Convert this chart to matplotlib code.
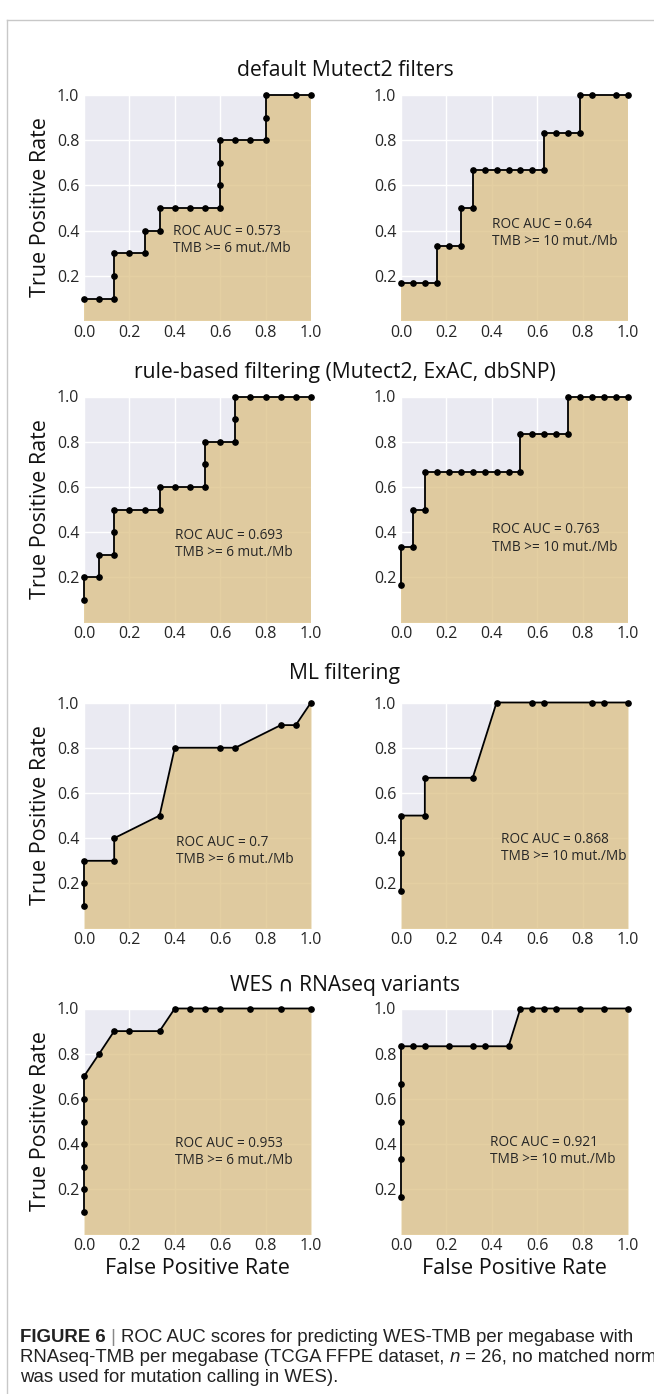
import matplotlib
matplotlib.use("Agg")
import matplotlib.pyplot as plt
from matplotlib.lines import Line2D

W, H, DPI = 654, 1394, 100

# ---------------- data ----------------
row_titles = ["default Mutect2 filters",
              "rule-based filtering (Mutect2, ExAC, dbSNP)",
              "ML filtering",
              "WES \u2229 RNAseq variants"]
thresholds = ["TMB >= 6 mut./Mb", "TMB >= 10 mut./Mb"]
auc_labels = [["0.573", "0.64"], ["0.693", "0.763"], ["0.7", "0.868"], ["0.953", "0.921"]]

fpr_default_6 = [0, .067, .133, .133, .133, .2, .267, .267, .333, .333, .4, .467, .533, .6,
                 .6, .6, .6, .667, .733, .8, .8, .8, .933, 1]
tpr_default_6 = [.1, .1, .1, .2, .3, .3, .3, .4, .4, .5, .5, .5, .5, .5,
                 .6, .7, .8, .8, .8, .8, .9, 1, 1, 1]
fpr_default_10 = [0, .053, .105, .158, .158, .211, .263, .263, .316, .316, .368, .421, .474,
                  .526, .579, .632, .632, .684, .737, .789, .789, .842, .947, 1]
tpr_default_10 = [.167, .167, .167, .167, .333, .333, .333, .5, .5, .667, .667, .667, .667,
                  .667, .667, .667, .833, .833, .833, .833, 1, 1, 1, 1]
fpr_rule_6 = [0, 0, .067, .067, .133, .133, .133, .2, .267, .333, .333, .4, .467, .533,
              .533, .533, .6, .667, .667, .667, .733, .8, .867, .933, 1]
tpr_rule_6 = [.1, .2, .2, .3, .3, .4, .5, .5, .5, .5, .6, .6, .6, .6,
              .7, .8, .8, .8, .9, 1, 1, 1, 1, 1, 1]
fpr_rule_10 = [0, 0, .053, .053, .105, .105, .158, .211, .263, .316, .368, .421, .474, .526,
               .526, .579, .632, .684, .737, .737, .789, .842, .895, .947, 1]
tpr_rule_10 = [.167, .333, .333, .5, .5, .667, .667, .667, .667, .667, .667, .667, .667, .667,
               .833, .833, .833, .833, .833, 1, 1, 1, 1, 1, 1]
fpr_ml_6 = [0, 0, 0, .133, .133, .333, .4, .6, .667, .867, .933, 1]
tpr_ml_6 = [.1, .2, .3, .3, .4, .5, .8, .8, .8, .9, .9, 1]
fpr_ml_10 = [0, 0, 0, .105, .105, .316, .421, .579, .632, .842, .895, 1]
tpr_ml_10 = [.167, .333, .5, .5, .667, .667, 1, 1, 1, 1, 1, 1]
fpr_wes_6 = [0, 0, 0, 0, 0, 0, 0, .067, .133, .2, .333, .4, .467, .533, .6, .733, .867, 1]
tpr_wes_6 = [.1, .2, .3, .4, .5, .6, .7, .8, .9, .9, .9, 1, 1, 1, 1, 1, 1, 1]
fpr_wes_10 = [0, 0, 0, 0, 0, .053, .105, .211, .316, .368, .474, .526, .579, .632, .684,
              .789, .895, 1]
tpr_wes_10 = [.167, .333, .5, .667, .833, .833, .833, .833, .833, .833, .833, 1, 1, 1, 1,
              1, 1, 1]

curves = [[(fpr_default_6, tpr_default_6), (fpr_default_10, tpr_default_10)],
          [(fpr_rule_6, tpr_rule_6), (fpr_rule_10, tpr_rule_10)],
          [(fpr_ml_6, tpr_ml_6), (fpr_ml_10, tpr_ml_10)],
          [(fpr_wes_6, tpr_wes_6), (fpr_wes_10, tpr_wes_10)]]

ticks = [0.0, 0.2, 0.4, 0.6, 0.8, 1.0]
yticks = [0.2, 0.4, 0.6, 0.8, 1.0]
tick_labels = ["0.0", "0.2", "0.4", "0.6", "0.8", "1.0"]
ytick_labels = ["0.2", "0.4", "0.6", "0.8", "1.0"]

caption_lines = [
    [("FIGURE 6", "bold", "normal", "#222222"), (" | ", "normal", "normal", "#888888"),
     ("ROC AUC scores for predicting WES-TMB per megabase with", "normal", "normal", "#222222")],
    [("RNAseq-TMB per megabase (TCGA FFPE dataset, ", "normal", "normal", "#222222"),
     ("n", "normal", "italic", "#222222"),
     (" = 26, no matched norm", "normal", "normal", "#222222")],
    [("was used for mutation calling in WES).", "normal", "normal", "#222222")],
]

# ---------------- layout ----------------
FONT = ["Open Sans", "DejaVu Sans"]
plt.rcParams['font.family'] = FONT
BG = "#EAEAF2"
FILL = "#DDC288"
TXT = "#262626"

fig = plt.figure(figsize=(W / DPI, H / DPI), dpi=DPI)
fig.patch.set_facecolor("white")

col_x = [84, 401]
ax_w = 227
row_top = [95, 396.5, 702.5, 1008.5]
ax_h = 225
title_base = [76, 378, 679, 991]
text_pos = [[(.39, .36), (.40, .39)],
            [(.40, .347), (.40, .372)],
            [(.405, .343), (.44, .355)],
            [(.40, .365), (.39, .37)]]

for r in range(4):
    fig.text(345 / W, 1 - title_base[r] / H, row_titles[r], ha="center", va="baseline",
             fontsize=15.2, color="#111111")
    for c in range(2):
        left = col_x[c] / W
        bottom = 1 - (row_top[r] + ax_h) / H
        ax = fig.add_axes([left, bottom, ax_w / W, ax_h / H])
        ax.set_facecolor(BG)
        for s in ax.spines.values():
            s.set_visible(False)
        ax.set_xlim(0, 1)
        ax.set_ylim(0.005, 1.0)
        ax.set_xticks(ticks)
        ax.set_xticklabels(tick_labels)
        ax.set_yticks(yticks)
        ax.set_yticklabels(ytick_labels)
        ax.tick_params(length=0, labelsize=11.5, colors=TXT, pad=3.5)
        ax.grid(True, color="white", lw=1.0)
        ax.set_axisbelow(True)
        fpr, tpr = curves[r][c]
        ax.fill_between(fpr, tpr, 0, color=FILL, alpha=0.78, lw=0, zorder=2)
        ax.plot(fpr, tpr, color="black", lw=1.3, marker="o", ms=3.8, zorder=3,
                clip_on=False)
        tx, ty = text_pos[r][c]
        ax.text(tx, ty, f"ROC AUC = {auc_labels[r][c]}\n{thresholds[c]}", ha="left",
                va="center", fontsize=9.8, color=TXT, linespacing=1.2, zorder=4)
    # y label
    fig.text(41 / W, 1 - (row_top[r] + ax_h / 2) / H, "True Positive Rate", rotation=90,
             ha="center", va="center", fontsize=15.5, color="#111111")

for c in range(2):
    fig.text((col_x[c] + ax_w / 2) / W, 1 - 1268 / H, "False Positive Rate", ha="center",
             va="center", fontsize=15.5, color="#111111")

# frame lines
fig.add_artist(Line2D([7 / W, 7 / W], [1 - 20 / H, 0], color="#c8c8c8", lw=1.0))
fig.add_artist(Line2D([7 / W, 1], [1 - 20 / H, 1 - 20 / H], color="#c8c8c8", lw=1.0))

# caption
CAP_FONT = ["Liberation Sans", "DejaVu Sans"]
renderer = fig.canvas.get_renderer()


def draw_runs(runs, x0, yc, fs, measure=False):
    x = x0
    made = []
    for s, weight, style, col in runs:
        t = fig.text(x / W, 1 - yc / H, s, ha="left", va="center", fontsize=fs,
                     fontweight=weight, fontstyle=style, color=col, family=CAP_FONT)
        bb = t.get_window_extent(renderer=renderer)
        x += bb.width
        made.append(t)
    if measure:
        for t in made:
            t.remove()
    return x - x0


w10 = draw_runs(caption_lines[0], 20, 1338, 10, measure=True)
cap_fs = 10 * 617 / w10
cap_y = [1338, 1357.5, 1377]
for runs, yc in zip(caption_lines, cap_y):
    draw_runs(runs, 20, yc, cap_fs)

fig.savefig("out.png", dpi=DPI, facecolor="white")
